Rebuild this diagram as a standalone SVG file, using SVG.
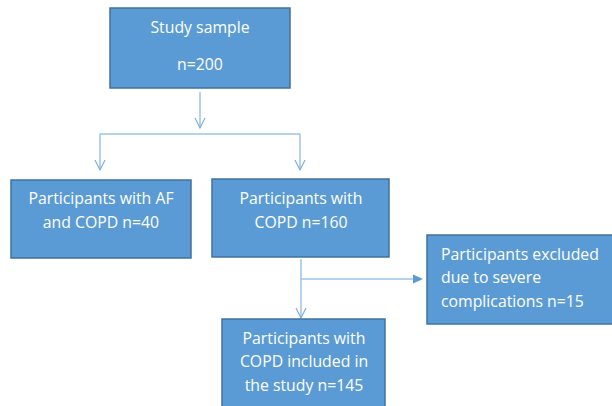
<svg xmlns="http://www.w3.org/2000/svg" width="612" height="406" viewBox="0 0 612 406">
<style>
.box{fill:#5B9BD5;stroke:#41719C;stroke-width:1.5}
.t{font-family:"Open Sans","Liberation Sans",sans-serif;font-size:15.8px;fill:#FFFFFF}
.c{text-anchor:middle}
.ln{fill:none;stroke:#9DC3E6;stroke-width:1.5}
.ah{fill:none;stroke:#7EB0DE;stroke-width:1.2}
</style>
<rect width="612" height="406" fill="#FFFFFF"/>
<g id="connectors">
<line class="ln" x1="200" y1="92" x2="200" y2="128"/>
<polyline class="ah" points="195,118 200,128 205,118"/>
<line class="ln" x1="100" y1="134" x2="300" y2="134"/>
<line class="ln" x1="100" y1="134" x2="100" y2="170"/>
<polyline class="ah" points="95,160 100,170 105,160"/>
<line class="ln" x1="300" y1="134" x2="300" y2="170"/>
<polyline class="ah" points="295,160 300,170 305,160"/>
<line class="ln" x1="301" y1="259" x2="301" y2="318"/>
<polyline class="ah" points="296,308 301,318 306,308"/>
<line class="ln" x1="301" y1="279" x2="414" y2="279"/>
<polygon points="413,274.5 423,279 413,283.5" fill="#5B9BD5"/>
</g>
<g id="study-sample">
<rect class="box" x="110" y="8" width="180" height="80"/>
<text class="t c" x="200" y="33">Study sample</text>
<text class="t c" x="200" y="70">n=200</text>
</g>
<g id="af-copd">
<rect class="box" x="11" y="180" width="180" height="78"/>
<text class="t c" x="101" y="204">Participants with AF</text>
<text class="t c" x="101" y="228">and COPD n=40</text>
</g>
<g id="copd">
<rect class="box" x="212" y="179" width="177" height="78"/>
<text class="t c" x="301" y="204">Participants with</text>
<text class="t c" x="301" y="228">COPD n=160</text>
</g>
<g id="excluded">
<rect class="box" x="427" y="235" width="186" height="89"/>
<text class="t" x="441" y="260">Participants excluded</text>
<text class="t" x="441" y="283">due to severe</text>
<text class="t" x="441" y="307">complications n=15</text>
</g>
<g id="included">
<rect class="box" x="222" y="319" width="163" height="90"/>
<text class="t c" x="304" y="344">Participants with</text>
<text class="t c" x="304" y="367">COPD included in</text>
<text class="t c" x="304" y="391">the study n=145</text>
</g>
</svg>
